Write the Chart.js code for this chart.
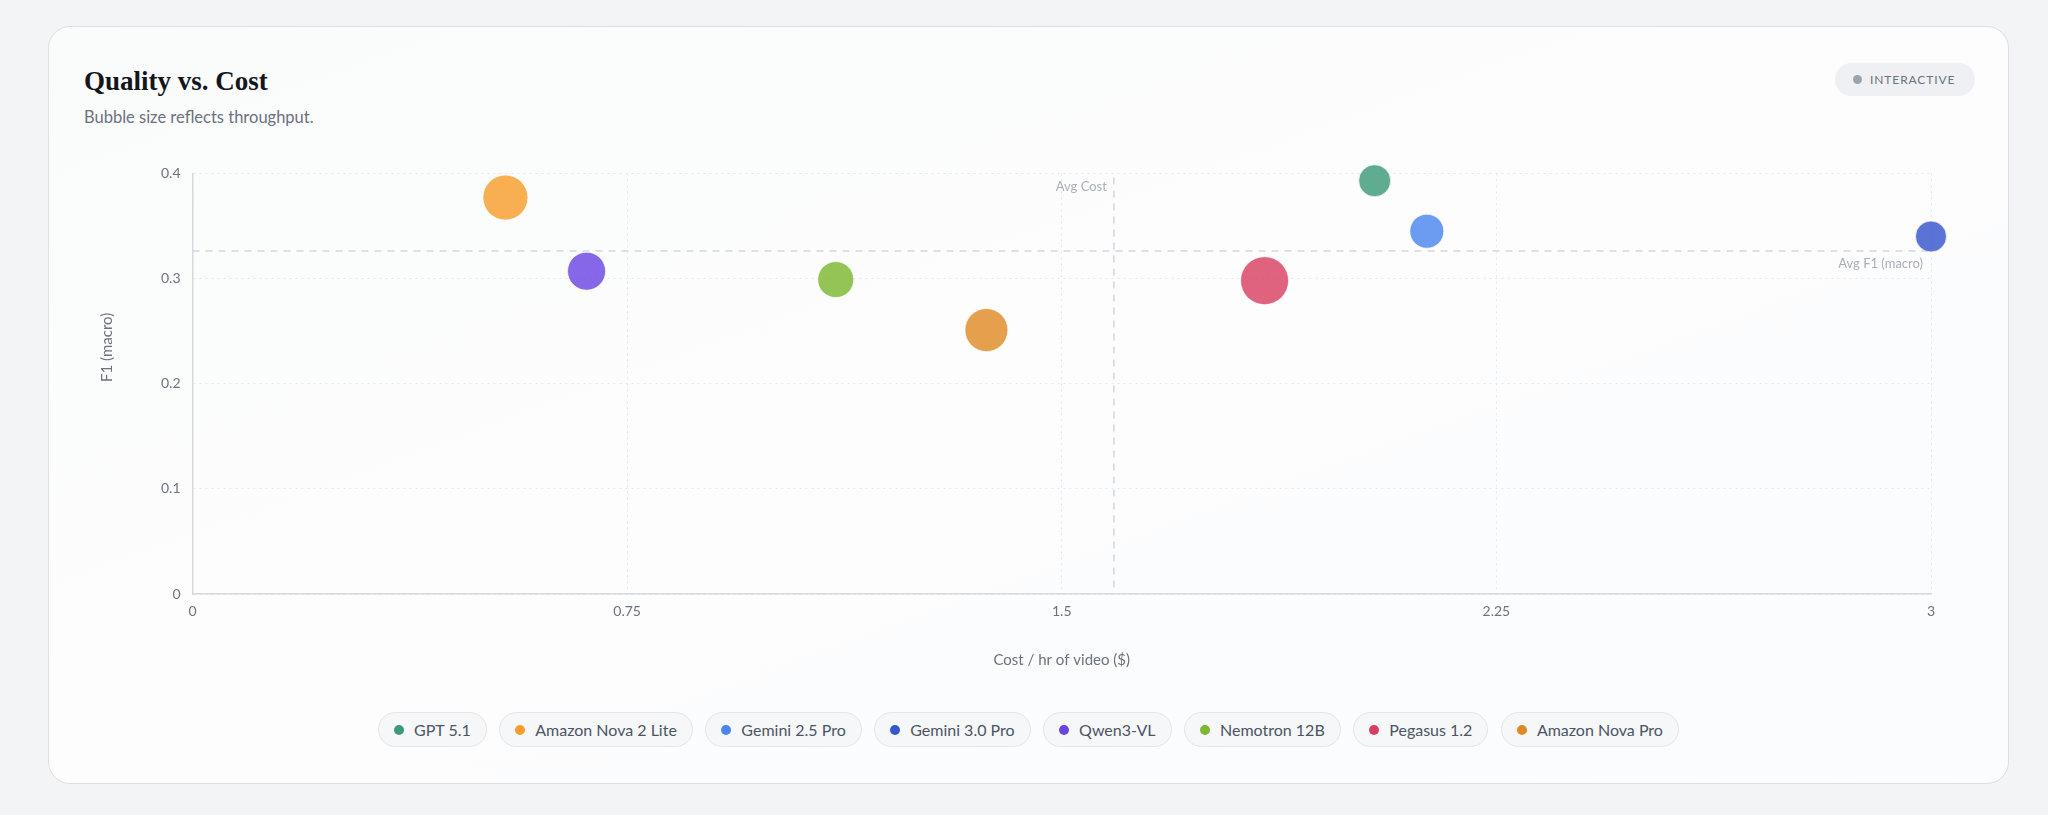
<!DOCTYPE html>
<html>
<head>
<meta charset="utf-8">
<script src="https://cdn.jsdelivr.net/npm/chart.js@4.4.1/dist/chart.umd.min.js"></script>
<style>
  html, body { margin: 0; padding: 0; }
  body { width: 2048px; height: 815px; background: #f3f4f6; font-family: Lato, "Noto Sans", sans-serif; position: relative; overflow: hidden; }
  .card { position: absolute; left: 48px; top: 26px; width: 1959px; height: 756px; border: 1px solid #dcdfe4; border-radius: 22px;
          background: linear-gradient(160deg, #fafbfb 0%, #fdfdfe 45%, #fbfcfd 100%); }
  .title { position: absolute; left: 35px; top: 41px; font-family: "Liberation Serif", serif; font-weight: bold; font-size: 27px; line-height: 27px; color: #14161a; }
  .subtitle { position: absolute; left: 35px; top: 81px; font-size: 16.5px; line-height: 19px; color: #6b7280; }
  .badge { position: absolute; left: 1786px; top: 36px; height: 33px; padding: 0 20px 0 18px; border-radius: 17px; background: #eef0f3;
           display: flex; align-items: center; font-size: 12px; letter-spacing: 0.9px; color: #6b7280; }
  .badge i { width: 9px; height: 9px; border-radius: 50%; background: #9ca3af; margin-right: 8px; display: inline-block; }
  .plot { position: absolute; left: 35px; top: 126px; width: 1876px; height: 527px; }
  .legend { position: absolute; left: 0; right: 0; top: 685px; display: flex; justify-content: center; gap: 12.5px; }
  .pill { height: 33px; border: 1px solid #e3e6ea; border-radius: 18px; background: #f6f7f9; display: flex; align-items: center;
          padding: 0 15px 0 15px; font-size: 16px; color: #4b5563; }
  .pill i { width: 10px; height: 10px; border-radius: 50%; display: inline-block; margin-right: 10px; }
</style>
</head>
<body>
<div class="card">
  <div class="title">Quality vs. Cost</div>
  <div class="subtitle">Bubble size reflects throughput.</div>
  <div class="badge"><i></i>INTERACTIVE</div>
  <div class="plot"><canvas id="grafica"></canvas></div>
  <div class="legend" id="leyenda"></div>
</div>
<script>
// datos
const modelos = ['GPT 5.1', 'Amazon Nova 2 Lite', 'Gemini 2.5 Pro', 'Gemini 3.0 Pro', 'Qwen3-VL', 'Nemotron 12B', 'Pegasus 1.2', 'Amazon Nova Pro'];
const costeHora = [2.04, 0.54, 2.13, 3.0, 0.68, 1.11, 1.85, 1.37];
const f1Macro = [0.393, 0.377, 0.345, 0.340, 0.307, 0.299, 0.298, 0.251];
const tamBurbuja = [16, 22.5, 17, 15.5, 19, 18, 24, 21.5];
const colores = ['#3d9a78', '#f59e2b', '#4a86ee', '#3556cc', '#6a46e3', '#7db72f', '#d83f63', '#de8b25'];
const ticksX = [0, 0.75, 1.5, 2.25, 3];
const ticksY = [0, 0.1, 0.2, 0.3, 0.4];

const promedio = arr => arr.reduce((a, b) => a + b, 0) / arr.length;
const costeMedio = promedio(costeHora);
const f1Medio = promedio(f1Macro);

let conAlfa = (hex, a) => {
    let r = parseInt(hex.slice(1, 3), 16), g = parseInt(hex.slice(3, 5), 16), b = parseInt(hex.slice(5, 7), 16);
    return 'rgba(' + r + ',' + g + ',' + b + ',' + a + ')';
};

let datasets = modelos.map((nombre, i) => ({
    label: nombre,
    data: [{ x: costeHora[i], y: f1Macro[i], r: tamBurbuja[i] }],
    backgroundColor: conAlfa(colores[i], 0.82),
    borderColor: 'rgba(255,255,255,0.7)',
    borderWidth: 1,
    clip: false
}));

/* lineas de promedio y titulo del eje Y */
const lineasPromedio = {
    id: 'lineasPromedio',
    beforeDatasetsDraw(chart) {
        const { ctx, chartArea, scales } = chart;
        const px = scales.x.getPixelForValue(costeMedio);
        const py = scales.y.getPixelForValue(f1Medio);
        ctx.save();
        ctx.strokeStyle = '#d3d6db';
        ctx.lineWidth = 1.5;
        ctx.setLineDash([7, 6]);
        ctx.beginPath();
        ctx.moveTo(chartArea.left, py);
        ctx.lineTo(chartArea.right, py);
        ctx.moveTo(px, chartArea.top + 4);
        ctx.lineTo(px, chartArea.bottom);
        ctx.stroke();
        ctx.setLineDash([]);
        ctx.fillStyle = '#aab0b8';
        ctx.font = '13px Lato';
        ctx.textAlign = 'right';
        ctx.textBaseline = 'middle';
        ctx.fillText('Avg Cost', px - 7, chartArea.top + 13);
        ctx.fillText('Avg F1 (macro)', chartArea.right - 8, py + 13);

        // titulo Y, algo por encima del centro como en el original
        ctx.translate(scales.y.left + 23, chartArea.top + 174);
        ctx.rotate(-Math.PI / 2);
        ctx.textAlign = 'center';
        ctx.fillStyle = '#6b7280';
        ctx.font = '15px Lato';
        ctx.fillText('F1 (macro)', 0, 0);
        ctx.restore();
    }
};

let ctx = document.getElementById('grafica').getContext('2d');

let config = {
    responsive: true,
    maintainAspectRatio: false,
    animation: false,
    layout: { autoPadding: false, padding: { top: 13, right: 29, bottom: 0, left: 0 } },
    plugins: { legend: { display: false }, tooltip: { enabled: false } },
    scales: {
        x: {
            type: 'linear',
            min: 0,
            max: 3,
            afterBuildTicks: s => { s.ticks = ticksX.map(v => ({ value: v })); },
            afterFit: s => { s.height = 86; },
            grid: { color: '#e4e7eb', drawTicks: false },
            border: { color: '#d5d9de', width: 1.5, dash: [2, 4] },
            ticks: { padding: 9, color: '#6b7280', font: { family: 'Lato', size: 14 }, callback: v => String(v) },
            title: { display: true, text: 'Cost / hr of video ($)', color: '#6b7280', font: { family: 'Lato', size: 15 }, padding: { top: 0, bottom: 11 } }
        },
        y: {
            type: 'linear',
            min: 0,
            max: 0.4,
            afterBuildTicks: s => { s.ticks = ticksY.map(v => ({ value: v })); },
            afterFit: s => { s.width = 108.5; },
            grid: { color: '#e4e7eb', drawTicks: false },
            border: { color: '#d5d9de', width: 1.5, dash: [2, 4] },
            ticks: { padding: 12, color: '#6b7280', font: { family: 'Lato', size: 14 }, callback: v => String(v) },
            title: { display: false }
        }
    }
};

let grafica = new Chart(ctx, {
    type: 'bubble',
    data: { datasets: datasets },
    options: config,
    plugins: [lineasPromedio]
});

/* leyenda en html */
let leyenda = document.getElementById('leyenda');
modelos.forEach((nombre, i) => {
    let pill = document.createElement('div');
    pill.className = 'pill';
    pill.innerHTML = '<i style="background:' + colores[i] + '"></i>' + nombre;
    leyenda.appendChild(pill);
});
</script>
</body>
</html>
